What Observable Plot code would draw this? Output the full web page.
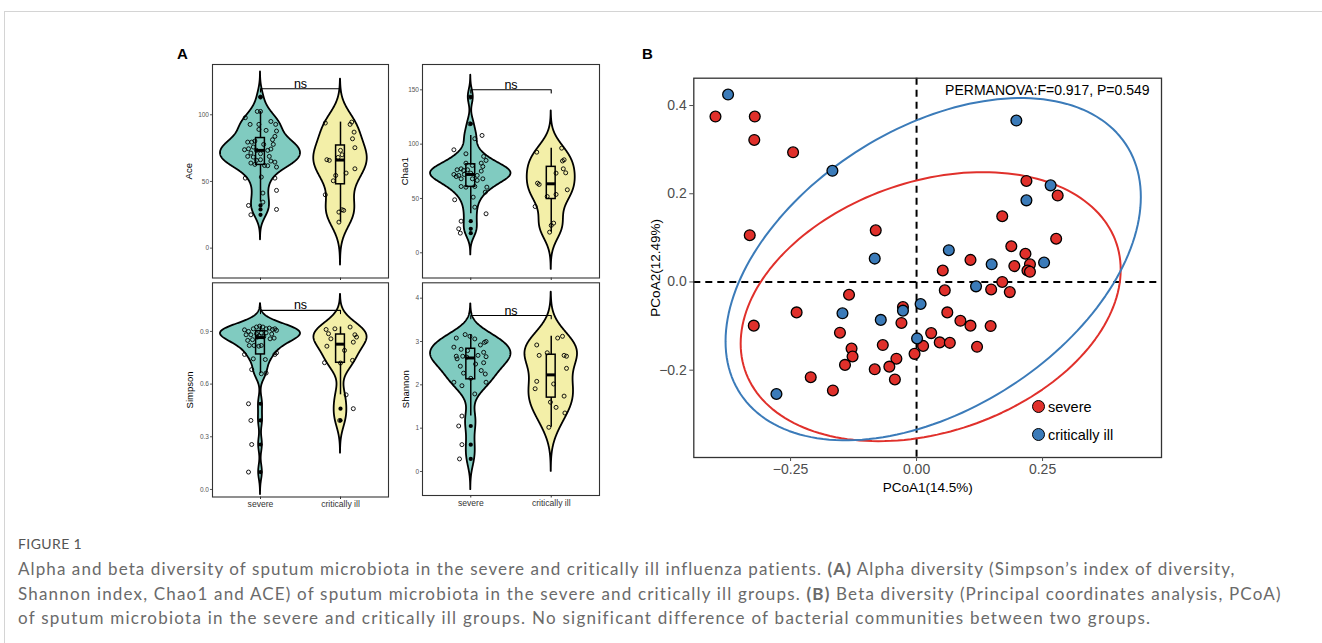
<!DOCTYPE html>
<html><head><meta charset="utf-8">
<script src="https://cdn.jsdelivr.net/npm/d3@7"></script>
<script src="https://cdn.jsdelivr.net/npm/@observablehq/plot@0.6"></script>
<style>
body{margin:0;background:#fff;}
#page{position:relative;width:1322px;height:643px;overflow:hidden;font-family:"Liberation Sans",Arial,sans-serif;background:#fff;}
.abs{position:absolute;}
.frameline{position:absolute;left:4px;top:11px;right:-2px;bottom:-2px;border-top:1px solid #d4d4d4;border-left:1px solid #d4d4d4;}
.plab{position:absolute;font-weight:bold;font-size:15px;color:#000;}
.cap{position:absolute;left:18px;white-space:nowrap;font-family:Lato,"Open Sans",sans-serif;color:#6a6a6a;font-size:17px;line-height:20px;}
.leg{position:absolute;font-size:14.5px;color:#000;white-space:nowrap;line-height:16px;}
.legdot{position:absolute;width:11px;height:11px;border-radius:50%;border:1.3px solid #000;}
</style></head><body><div id="page"><div class="frameline"></div></div>
<script>
// ---------------- data ----------------
const groups = ["severe", "critically ill"];
const metricNames = ["Ace", "Chao1", "Simpson", "Shannon"];

// Panel A: values and horizontal jitter offsets (category units)
const aceSevere = [113.3,102.5,102.5,97.8,92.8,92.8,95.0,89.0,88.3,92.8,87.8,83.8,81.3,79.5,79.5,80.3,73.8,74.5,75.8,73.3,71.3,68.8,68.3,65.8,63.8,62.8,70.8,66.3,77.8,73.3,74.3,77.8,68.8,65.3,64.5,60.8,61.8,62.0,52.5,53.3,52.5,41.3,43.3,34.5,32.0,25.0,29.0];
const aceSevereJit = [0.00,-0.04,0.00,-0.19,-0.13,-0.02,0.13,-0.02,0.07,0.19,0.20,0.18,0.15,-0.16,-0.11,-0.07,-0.20,-0.15,-0.09,-0.05,-0.12,-0.16,-0.09,-0.05,-0.12,-0.07,0.00,0.00,0.04,0.09,0.13,0.16,0.11,0.13,0.18,0.20,0.09,0.05,-0.19,0.01,0.18,0.03,0.20,0.03,-0.15,-0.12,0.20];
const aceCrit = [93.8,94.5,92.8,87.0,82.0,75.3,66.3,65.8,59.5,54.5,56.3,50.5,40.0,28.8,28.3,27.0,19.5,73.3,70.0,68.0];
const aceCritJit = [-0.19,0.14,0.12,0.17,0.15,0.18,-0.17,-0.14,0.18,-0.06,0.07,-0.09,-0.19,0.02,0.04,-0.02,-0.02,0.00,0.02,-0.03];

const chaoSevere = [143.3,118.7,108,105,94.8,91.1,88.7,85,82.5,82.5,79.4,80.4,77.3,76.4,75.8,76.4,72.1,71.2,72.1,73.3,71.2,75.2,68.1,70.2,68.1,68.1,66.6,61,60.4,61,60.4,55.8,48.8,51.2,42,35.9,29.1,22.1,18.1];
const chaoSevereJit = [-0.01,-0.01,0.14,0.05,-0.21,-0.06,0.16,0.19,0.13,-0.06,0.15,0.02,-0.12,-0.17,-0.09,-0.04,-0.21,-0.15,-0.08,0.00,0.08,0.13,-0.12,-0.18,0.02,0.15,0.08,-0.12,-0.06,0.05,0.20,0.18,-0.20,0.03,0.05,0.19,-0.12,-0.15,-0.13];
const chaoCrit = [92.6,96.3,85.6,84.5,77.3,73.6,64.1,62.9,73.3,58,42.6,51.8,53.7,27.3,19,25.2];
const chaoCritJit = [-0.18,0.13,0.16,0.14,0.15,0.18,-0.17,-0.15,0.06,0.20,-0.20,-0.05,0.06,0.03,-0.02,0.00];

const simpSevere = [0.909,0.900,0.915,0.925,0.930,0.925,0.915,0.919,0.911,0.915,0.906,0.881,0.881,0.887,0.892,0.892,0.858,0.862,0.849,0.853,0.868,0.820,0.820,0.816,0.820,0.769,0.769,0.778,0.744,0.740,0.683,0.659,0.663,0.488,0.393,0.256,0.099,0.875,0.870,0.885];
const simpSevereJit = [-0.20,-0.15,-0.09,-0.05,-0.01,0.03,0.07,0.11,0.15,0.18,0.20,-0.18,-0.12,-0.05,0.01,0.07,0.12,0.17,-0.16,-0.10,-0.04,-0.14,-0.08,-0.02,0.01,-0.20,0.18,0.20,-0.09,0.06,-0.11,0.01,0.07,-0.15,-0.12,-0.11,-0.15,-0.02,0.04,0.14];
const simpCrit = [0.911,0.887,0.858,0.816,0.915,0.925,0.881,0.868,0.839,0.792,0.720,0.722,0.735,0.539,0.460,0.393];
const simpCritJit = [-0.18,-0.15,-0.12,-0.17,-0.07,0.12,0.18,0.20,0.16,0.05,0.00,-0.20,0.15,0.07,0.16,-0.01];

const shanSevere = [3.08,3.16,3.12,3.06,2.92,2.98,3.00,2.87,2.82,2.79,2.75,2.66,2.66,2.64,2.68,2.65,2.60,2.43,2.48,2.51,2.27,2.33,2.25,2.06,1.98,2.06,2.15,1.79,1.28,1.05,0.62,0.29];
const shanSevereJit = [-0.18,-0.07,-0.01,0.05,0.12,0.17,0.19,-0.21,-0.12,-0.04,0.16,-0.18,-0.10,-0.05,0.09,0.19,-0.17,-0.13,0.06,0.16,-0.09,0.13,0.18,-0.21,-0.11,0.19,0.00,0.05,-0.11,-0.15,-0.11,-0.14];
const shanCrit = [2.92,2.68,2.74,3.08,3.12,2.68,2.66,2.38,2.08,1.91,2.02,1.74,1.60,1.48,1.35,1.02];
const shanCritJit = [-0.18,-0.15,-0.05,0.08,0.14,0.16,0.19,0.19,-0.18,-0.20,0.03,0.16,-0.01,0.06,0.17,-0.03];

const aceTicks = [0, 50, 100];
const chaoTicks = [0, 50, 100, 150];
const simpTicks = [0.0, 0.3, 0.6, 0.9];
const shanTicks = [0, 1, 2, 3, 4];
const sigLabel = "ns";
const sigY = [119.5, 150, 1.02, 3.6];

// Panel B: PCoA coordinates
const severeX = [-0.399,-0.321,-0.322,-0.245,-0.331,-0.081,0.218,0.280,0.170,0.277,0.188,0.216,0.107,0.194,0.225,0.220,0.225,0.052,0.170,0.148,0.185,0.056,-0.134,-0.027,0.061,-0.030,0.087,0.107,0.147,-0.152,0.029,0.046,0.066,0.013,-0.004,-0.067,0.120,-0.129,-0.127,-0.142,-0.040,-0.054,-0.083,-0.043,-0.166,-0.210,-0.238,-0.323];
const severeY = [0.375,0.375,0.322,0.294,0.106,0.117,0.229,0.196,0.149,0.098,0.081,0.064,0.050,0.036,0.040,0.026,0.023,0.026,0.000,-0.017,-0.023,-0.019,-0.029,-0.057,-0.069,-0.093,-0.088,-0.099,-0.100,-0.115,-0.116,-0.137,-0.138,-0.145,-0.163,-0.143,-0.147,-0.151,-0.169,-0.188,-0.174,-0.192,-0.198,-0.221,-0.246,-0.216,-0.069,-0.099];
const critX = [-0.374,-0.167,-0.083,0.198,0.266,0.218,0.064,0.149,0.253,0.118,0.008,-0.027,-0.147,-0.071,0.001,-0.278];
const critY = [0.425,0.252,0.053,0.366,0.219,0.185,0.072,0.040,0.044,-0.010,-0.050,-0.065,-0.071,-0.086,-0.128,-0.254];
// 95% ellipse parameters per group (centre, half-extents, correlation)
const ellCx = [0.028, 0.033];
const ellCy = [-0.056, 0.029];
const ellSx = [0.377, 0.412];
const ellSy = [0.305, 0.388];
const ellR  = [0.275, 0.422];
const xTicksB = [-0.25, 0, 0.25];
const yTicksB = [-0.2, 0, 0.2, 0.4];
const xTitleB = "PCoA1(14.5%)";
const yTitleB = "PCoA2(12.49%)";
const statText = "PERMANOVA:F=0.917, P=0.549";

// ---------------- helpers ----------------
const teal = "#80cbc0", yellow = "#f3efa8";
const red = "#e0302b", blue = "#3b7bb9";
const page = document.getElementById("page");
function place(node, left, top) {
  const d = document.createElement("div");
  d.className = "abs"; d.style.left = left + "px"; d.style.top = top + "px";
  d.appendChild(node); page.appendChild(d); return d;
}
function kde(values) {
  const s = values.slice().sort(d3.ascending);
  const n = s.length;
  const sd = d3.deviation(s);
  const iqr = d3.quantileSorted(s, 0.75) - d3.quantileSorted(s, 0.25);
  const bw = 0.9 * Math.min(sd, iqr / 1.34) * Math.pow(n, -0.2);
  const lo = s[0] - 3 * bw, hi = s[n - 1] + 3 * bw;
  return d3.range(0, 401).map(i => {
    const y = lo + (hi - lo) * i / 400;
    const d = d3.sum(s, v => Math.exp(-0.5 * ((y - v) / bw) ** 2)) / (n * bw * Math.sqrt(2 * Math.PI));
    return {y, d};
  });
}
function boxStats(v) {
  const s = v.slice().sort(d3.ascending);
  const q1 = d3.quantileSorted(s, 0.25), med = d3.quantileSorted(s, 0.5), q3 = d3.quantileSorted(s, 0.75);
  const iqr = q3 - q1, lf = q1 - 1.5 * iqr, uf = q3 + 1.5 * iqr;
  return {q1, med, q3, lo: d3.min(s.filter(x => x >= lf)), hi: d3.max(s.filter(x => x <= uf)), out: s.filter(x => x < lf || x > uf)};
}
const plotStyle = {background: "transparent", overflow: "visible", fontFamily: "Liberation Sans, Arial, sans-serif", maxWidth: "none"};

function violinPanel(cfg) {
  const sets = [
    {c: 1, v: cfg.sev, j: cfg.sevJ, fill: teal},
    {c: 2, v: cfg.crit, j: cfg.critJ, fill: yellow}
  ];
  const dens = sets.map(s => kde(s.v));
  const maxd = d3.max(dens.flat(), p => p.d);
  const marks = [];
  sets.forEach((s, i) => {
    const pts = dens[i].map(p => ({y: p.y, hw: 0.5 * p.d / maxd}));
    marks.push(Plot.areaX(pts, {y: "y", x1: p => s.c - p.hw, x2: p => s.c + p.hw, fill: s.fill, stroke: "black", strokeWidth: 1.8, strokeLinejoin: "round"}));
  });
  sets.forEach(s => {
    const pts = s.v.map((v, k) => ({x: s.c + s.j[k], y: v}));
    marks.push(Plot.dot(pts, {x: "x", y: "y", r: 2, stroke: "black", strokeWidth: 0.9, fill: "none"}));
  });
  const bw = 0.055;
  sets.forEach(s => {
    const st = boxStats(s.v);
    marks.push(Plot.ruleX([st], {x: () => s.c, y1: "lo", y2: "q1", strokeWidth: 1.5}));
    marks.push(Plot.ruleX([st], {x: () => s.c, y1: "q3", y2: "hi", strokeWidth: 1.5}));
    marks.push(Plot.rect([st], {x1: () => s.c - bw, x2: () => s.c + bw, y1: "q1", y2: "q3", fill: "none", stroke: "black", strokeWidth: 1.5}));
    marks.push(Plot.ruleY([st], {y: "med", x1: () => s.c - bw, x2: () => s.c + bw, strokeWidth: 3}));
    marks.push(Plot.dot(st.out, {x: () => s.c, y: d => d, r: 2.1, fill: "black"}));
  });
  const tip = 0.015 * (cfg.domain[1] - cfg.domain[0]);
  marks.push(Plot.line([{x: 1, y: cfg.sig - tip}, {x: 1, y: cfg.sig}, {x: 2, y: cfg.sig}, {x: 2, y: cfg.sig - tip}], {x: "x", y: "y", strokeWidth: 1.1}));
  marks.push(Plot.text([{x: 1.5, y: cfg.sig}], {x: "x", y: "y", text: () => sigLabel, fontSize: 12.5, lineAnchor: "bottom", dy: -1}));
  marks.push(Plot.frame({stroke: "#333", strokeWidth: 1.1}));
  marks.push(Plot.axisY({ticks: cfg.ticks, tickFormat: cfg.fmt, tickSize: 2, tickPadding: 1.5, fontSize: 6.5, color: "#555", label: null}));
  marks.push(Plot.axisX({ticks: [1, 2], tickFormat: d => cfg.showX ? groups[d - 1] : "", tickSize: 2.5, tickPadding: 1.5, fontSize: 8.6, color: "#333", label: null}));
  marks.push(Plot.text([cfg.name], {frameAnchor: "left", text: d => d, rotate: -90, dx: cfg.titleDx, textAnchor: "middle", fontSize: 9.5, fill: "#000"}));
  return Plot.plot({
    width: cfg.width, height: cfg.height,
    marginLeft: cfg.ml, marginRight: cfg.mr, marginTop: cfg.mt, marginBottom: cfg.mb,
    x: {domain: [0.4, 2.6]}, y: {domain: cfg.domain},
    style: plotStyle,
    marks
  });
}

// ---------------- panel A ----------------
place(violinPanel({name: metricNames[0], sev: aceSevere, sevJ: aceSevereJit, crit: aceCrit, critJ: aceCritJit,
  domain: [-22.4, 137.7], ticks: aceTicks, fmt: d3.format("d"), sig: sigY[0], showX: false, titleDx: -24,
  width: 244, height: 230, ml: 62, mr: 6, mt: 10, mb: 6.5}), 150, 54);
place(violinPanel({name: metricNames[1], sev: chaoSevere, sevJ: chaoSevereJit, crit: chaoCrit, critJ: chaoCritJit,
  domain: [-23.2, 173.3], ticks: chaoTicks, fmt: d3.format("d"), sig: sigY[1], showX: false, titleDx: -18,
  width: 215, height: 230, ml: 32, mr: 6, mt: 10, mb: 6.5}), 390, 54);
place(violinPanel({name: metricNames[2], sev: simpSevere, sevJ: simpSevereJit, crit: simpCrit, critJ: simpCritJit,
  domain: [-0.043, 1.177], ticks: simpTicks, fmt: d3.format(".1f"), sig: sigY[2], showX: true, titleDx: -22.5,
  width: 244, height: 242.5, ml: 62, mr: 6, mt: 10.3, mb: 18}), 150, 272);
place(violinPanel({name: metricNames[3], sev: shanSevere, sevJ: shanSevereJit, crit: shanCrit, critJ: shanCritJit,
  domain: [-0.554, 4.355], ticks: shanTicks, fmt: d3.format("d"), sig: sigY[3], showX: true, titleDx: -17,
  width: 215, height: 242.5, ml: 32, mr: 6, mt: 10.3, mb: 19.5}), 390, 272);

// ---------------- panel B ----------------
const sevPts = severeX.map((x, i) => ({x, y: severeY[i], g: groups[0]}));
const critPts = critX.map((x, i) => ({x, y: critY[i], g: groups[1]}));
const ellipse = k => d3.range(0, 361, 2).map(a => {
  const t = a * Math.PI / 180;
  return {x: ellCx[k] + ellSx[k] * Math.cos(t), y: ellCy[k] + ellSy[k] * (ellR[k] * Math.cos(t) + Math.sqrt(1 - ellR[k] ** 2) * Math.sin(t))};
});
const plotB = Plot.plot({
  width: 545, height: 440, marginLeft: 63.3, marginRight: 14, marginTop: 7.7, marginBottom: 53,
  x: {domain: [-0.442, 0.486]}, y: {domain: [-0.398, 0.462]},
  style: plotStyle,
  marks: [
    Plot.ruleX([0], {strokeDasharray: "7,5", strokeWidth: 2, stroke: "black"}),
    Plot.ruleY([0], {strokeDasharray: "7,5", strokeWidth: 2, stroke: "black"}),
    Plot.line(ellipse(0), {x: "x", y: "y", stroke: red, strokeWidth: 2}),
    Plot.line(ellipse(1), {x: "x", y: "y", stroke: blue, strokeWidth: 2}),
    Plot.dot(sevPts, {x: "x", y: "y", r: 5.4, fill: red, stroke: "black", strokeWidth: 1.3}),
    Plot.dot(critPts, {x: "x", y: "y", r: 5.4, fill: blue, stroke: "black", strokeWidth: 1.3}),
    Plot.frame({stroke: "#333", strokeWidth: 1.3}),
    Plot.axisX({ticks: xTicksB, tickFormat: d3.format(".2f"), tickSize: 4, tickPadding: 3, fontSize: 14, color: "#4d4d4d", label: null}),
    Plot.axisY({ticks: yTicksB, tickFormat: d3.format(".1f"), tickSize: 4, tickPadding: 3, fontSize: 14, color: "#4d4d4d", label: null}),
    Plot.text([xTitleB], {frameAnchor: "bottom", text: d => d, dy: 34, fontSize: 13.5, fill: "#000"}),
    Plot.text([yTitleB], {frameAnchor: "left", text: d => d, rotate: -90, dx: -38, textAnchor: "middle", fontSize: 13.5, fill: "#000"}),
    Plot.text([statText], {frameAnchor: "top-right", text: d => d, dx: -12, dy: 7, textAnchor: "end", fontSize: 14, fill: "#000"})
  ]
});
place(plotB, 630, 70);

// legend
[[groups[0], red, 406.5], [groups[1], blue, 435]].forEach(([lab, col, cy]) => {
  const dot = document.createElement("div");
  dot.className = "legdot"; dot.style.background = col;
  dot.style.left = (1039 - 6.8) + "px"; dot.style.top = (cy - 6.8) + "px";
  page.appendChild(dot);
  const t = document.createElement("div");
  t.className = "leg"; t.textContent = lab;
  t.style.left = "1048px"; t.style.top = (cy - 8) + "px";
  page.appendChild(t);
});

// panel letters
[["A", 177, 45], ["B", 642, 45]].forEach(([l, x, y]) => {
  const d = document.createElement("div"); d.className = "plab"; d.textContent = l;
  d.style.left = x + "px"; d.style.top = y + "px"; page.appendChild(d);
});

// caption
const fig = document.createElement("div");
fig.className = "cap"; fig.textContent = "FIGURE 1";
fig.style.top = "534px"; fig.style.fontSize = "14px"; fig.style.color = "#555"; fig.style.letterSpacing = "0.4px";
page.appendChild(fig);
const capLines = [
  ['Alpha and beta diversity of sputum microbiota in the severe and critically ill influenza patients. <b>(A)</b> Alpha diversity (Simpson’s index of diversity,', 559, 1218],
  ['Shannon index, Chao1 and ACE) of sputum microbiota in the severe and critically ill groups. <b>(B)</b> Beta diversity (Principal coordinates analysis, PCoA)', 584, 1264],
  ['of sputum microbiota in the severe and critically ill groups. No significant difference of bacterial communities between two groups.', 608, 1133]
];
const capEls = capLines.map(([html, top, target]) => {
  const d = document.createElement("div");
  d.className = "cap"; d.innerHTML = html; d.style.top = top + "px";
  page.appendChild(d); return [d, target];
});
function fitCaption() {
  capEls.forEach(([d, target]) => {
    d.style.letterSpacing = "0px";
    const w = d.getBoundingClientRect().width;
    const n = d.textContent.length;
    d.style.letterSpacing = ((target - w) / n) + "px";
  });
}
fitCaption();
if (document.fonts && document.fonts.ready) document.fonts.ready.then(fitCaption);
</script></body></html>
